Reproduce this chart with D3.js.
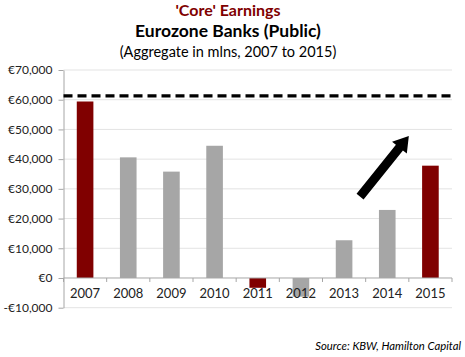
<!DOCTYPE html>
<html><head><meta charset="utf-8">
<script src="https://cdn.jsdelivr.net/npm/d3@7"></script>
<style>body{margin:0;background:#fff}svg{display:block}text{font-family:Lato,"Open Sans",sans-serif}</style>
</head><body><svg id="c" width="465" height="357"></svg>
<script>
const years = ["2007","2008","2009","2010","2011","2012","2013","2014","2015"];
const earnings = [59400, 40600, 35800, 44500, -3300, -6300, 12700, 22900, 37800];
const highlighted = ["2007","2011","2015"];
const yTicks = [-10000, 0, 10000, 20000, 30000, 40000, 50000, 60000, 70000];
const peakLevel = 61300;
const arrowFrom = {pos: 6.87, value: 27400};
const arrowTo = {pos: 8.0, value: 47800};
const titles = ["'Core' Earnings", "Eurozone Banks (Public)", "(Aggregate in mlns, 2007 to 2015)"];
const source = "Source: KBW, Hamilton Capital";

const svg = d3.select("#c");
const L = 63.5, R = 452, T = 70, B = 307.7;
const x = d3.scaleBand().domain(years).range([L, R]).paddingInner(0.615).paddingOuter(0.3075);
const y = d3.scaleLinear().domain([-10000, 70000]).range([B, T]);
const xPos = d3.scaleLinear().domain([0, years.length]).range([L, R]);

// gridlines
svg.append("g").selectAll("line").data(yTicks.filter(d => d !== 0)).join("line")
  .attr("x1", L).attr("x2", R).attr("y1", d => y(d)).attr("y2", d => y(d))
  .attr("stroke", "#e3e3e3").attr("stroke-width", 1);

// y axis
const fmt = d => (d < 0 ? "-" : "") + "€" + d3.format(",")(Math.abs(d));
const yAxis = svg.append("g").attr("transform", `translate(${L},0)`)
  .call(d3.axisLeft(y).tickValues(yTicks).tickFormat(fmt).tickSizeInner(5).tickSizeOuter(0).tickPadding(6));
yAxis.select(".domain").attr("stroke", "#a6a6a6");
yAxis.selectAll(".tick line").attr("stroke", "#a6a6a6");
yAxis.selectAll("text").attr("font-size", 12).attr("fill", "#222");

// bars
svg.append("g").selectAll("rect").data(years).join("rect")
  .attr("x", d => x(d)).attr("width", x.bandwidth())
  .attr("y", (d, i) => y(Math.max(0, earnings[i])))
  .attr("height", (d, i) => Math.abs(y(earnings[i]) - y(0)))
  .attr("fill", d => highlighted.includes(d) ? "#800000" : "#a6a6a6");

// x axis at zero
const xg = svg.append("g");
xg.append("line").attr("x1", L).attr("x2", R).attr("y1", y(0)).attr("y2", y(0)).attr("stroke", "#a6a6a6");
xg.selectAll("line.tk").data(d3.range(years.length + 1)).join("line").attr("class", "tk")
  .attr("x1", d => xPos(d)).attr("x2", d => xPos(d)).attr("y1", y(0)).attr("y2", y(0) + 4)
  .attr("stroke", "#a6a6a6");
xg.selectAll("text").data(years).join("text")
  .attr("x", d => x(d) + x.bandwidth() / 2).attr("y", y(0) + 20)
  .attr("text-anchor", "middle").attr("font-size", 13).attr("fill", "#222").text(d => d);

// dashed peak line
svg.append("line").attr("x1", L).attr("x2", R + 2).attr("y1", y(peakLevel)).attr("y2", y(peakLevel))
  .attr("stroke", "#000").attr("stroke-width", 3.2).attr("stroke-dasharray", "9,5");

// arrow
const ax0 = xPos(arrowFrom.pos), ay0 = y(arrowFrom.value), ax1 = xPos(arrowTo.pos), ay1 = y(arrowTo.value);
const ang = Math.atan2(ay1 - ay0, ax1 - ax0), len = Math.hypot(ax1 - ax0, ay1 - ay0);
const sw = 4.5, hw = 9.5, hl = 15;
const pts = [[0, -sw], [len - hl, -sw], [len - hl, -hw], [len, 0], [len - hl, hw], [len - hl, sw], [0, sw]];
svg.append("polygon")
  .attr("points", pts.map(p => p.join(",")).join(" "))
  .attr("transform", `translate(${ax0},${ay0}) rotate(${ang * 180 / Math.PI})`)
  .attr("fill", "#000");

// titles
svg.append("text").attr("x", 228).attr("y", 16).attr("text-anchor", "middle")
  .attr("font-size", 16).attr("font-weight", "bold").attr("fill", "#7f0000").text(titles[0]);
svg.append("text").attr("x", 228).attr("y", 37).attr("text-anchor", "middle")
  .attr("font-size", 17.5).attr("font-weight", "bold").attr("fill", "#000").text(titles[1]);
svg.append("text").attr("x", 228).attr("y", 57).attr("text-anchor", "middle")
  .attr("font-size", 14.5).attr("fill", "#000").text(titles[2]);
svg.append("text").attr("x", 461).attr("y", 350).attr("text-anchor", "end")
  .attr("font-size", 11.3).attr("font-style", "italic").attr("fill", "#000").text(source);
</script></body></html>
